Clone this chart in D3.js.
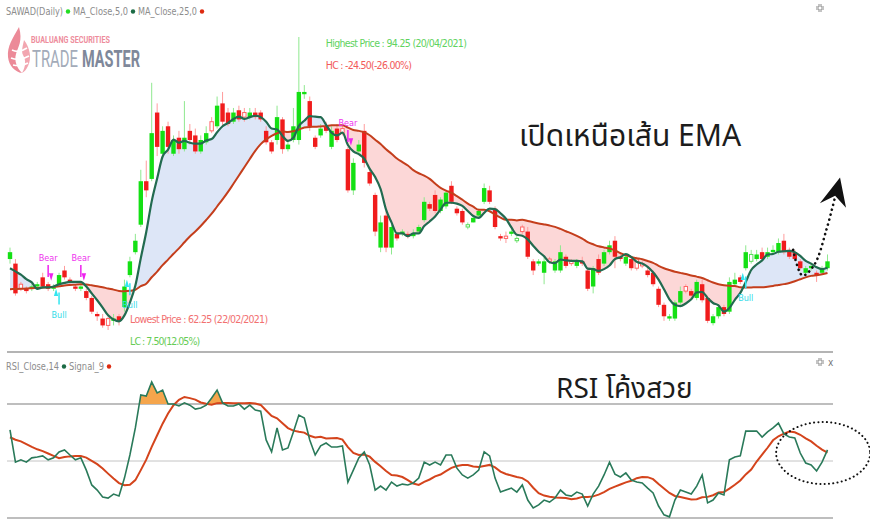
<!DOCTYPE html>
<html>
<head>
<meta charset="utf-8">
<script src="https://cdn.jsdelivr.net/npm/d3@7/dist/d3.min.js"></script>
<style>
  body { margin: 0; background: #fff; }
  svg { display: block; }
  .narrow { font-family: "Liberation Sans Narrow", "DejaVu Sans Condensed", "Roboto", sans-serif; }
  .thai { font-family: "Noto Sans Thai", "Noto Sans", "DejaVu Sans", sans-serif; }
</style>
</head>
<body>
<div id="chart"></div>
<script>
// ---- data ----
const symbolTitle = "SAWAD(Daily)";
const priceSeriesNames = ["MA_Close,5,0", "MA_Close,25,0"];
const rsiSeriesNames = ["RSI_Close,14", "Signal_9"];

const openPrices = [
  70.0, 69.5, 67.25, 66.75, 66.75, 67.0, 68.0, 67.25, 66.75, 67.25,
  68.75, 67.75, 67.0, 66.75, 66.5, 65.75, 64.0, 63.5, 63.5, 63.25,
  63.75, 64.75, 68.25, 70.75, 73.75, 78.5, 78.75, 86.0, 81.5, 84.5,
  81.5, 83.25, 82.0, 84.0, 83.5, 81.75, 82.75, 85.0, 84.5, 87.0,
  86.0, 85.0, 86.25, 86.0, 85.5, 86.0, 86.0, 84.0, 82.75, 83.0,
  85.25, 82.0, 83.0, 83.0, 88.0, 87.25, 83.25, 83.5, 84.5, 82.25,
  84.25, 84.25, 82.0, 77.5, 81.75, 84.0, 79.5, 77.0, 71.25, 74.75,
  71.25, 72.75, 72.75, 72.75, 72.5, 73.0, 74.25, 76.0, 77.0, 75.25,
  75.75, 78.0, 75.5, 75.25, 73.5, 74.0, 74.75, 76.25, 77.5, 75.5,
  72.5, 72.5, 72.75, 72.0, 73.5, 73.0, 69.75, 69.5, 68.5, 70.0,
  68.75, 68.75, 70.25, 69.75, 69.25, 69.75, 68.75, 67.0, 70.0, 69.5,
  70.75, 72.0, 70.25, 69.5, 70.0, 70.0, 69.5, 68.75, 68.5, 66.75,
  65.0, 63.5, 63.5, 65.25, 67.0, 66.5, 65.75, 67.25, 65.75, 63.0,
  63.75, 64.75, 64.25, 67.25, 68.0, 69.0, 69.75, 70.0, 70.75, 70.25,
  70.75, 70.75, 72.0, 71.0, 70.75, 69.75, 68.5, 69.0, 68.5, 68.5,
  69.0
];
const highPrices = [
  71.25, 70.0, 67.5, 67.0, 67.25, 67.5, 68.5, 67.5, 67.25, 68.5,
  69.25, 68.0, 67.25, 67.5, 66.75, 66.0, 64.25, 64.0, 63.75, 64.0,
  64.0, 67.75, 70.25, 72.75, 79.75, 80.75, 89.25, 87.0, 84.5, 85.0,
  83.5, 84.0, 87.25, 84.75, 84.25, 83.5, 84.5, 85.5, 87.75, 88.25,
  86.5, 86.5, 86.75, 86.5, 86.5, 86.5, 86.25, 84.5, 83.0, 86.75,
  85.5, 83.0, 86.5, 94.25, 89.0, 87.75, 83.5, 84.75, 85.0, 84.5,
  84.75, 84.75, 82.25, 81.0, 83.0, 84.75, 80.0, 77.25, 74.75, 75.25,
  74.0, 73.0, 73.25, 73.0, 73.25, 73.75, 76.75, 76.25, 77.5, 76.75,
  77.5, 78.5, 75.75, 75.5, 74.0, 74.75, 75.5, 78.25, 78.0, 75.75,
  72.75, 73.0, 73.25, 72.5, 73.75, 73.5, 70.0, 70.0, 70.25, 70.25,
  70.0, 71.5, 70.5, 70.0, 70.0, 70.25, 69.0, 69.25, 70.5, 71.0,
  72.0, 72.5, 70.75, 70.5, 70.25, 70.25, 69.75, 69.0, 68.75, 67.0,
  65.25, 64.0, 65.5, 67.0, 67.25, 66.75, 67.75, 67.75, 66.0, 64.0,
  65.0, 65.0, 68.0, 68.5, 68.25, 71.5, 71.0, 71.0, 71.25, 71.25,
  71.5, 72.25, 72.75, 71.25, 71.0, 70.0, 69.25, 69.5, 68.75, 69.25,
  70.5
];
const lowPrices = [
  69.5, 66.0, 66.5, 66.25, 66.5, 66.75, 66.75, 66.5, 66.5, 67.0,
  67.75, 67.25, 66.5, 66.5, 65.5, 64.0, 63.25, 62.5, 62.25, 62.75,
  62.75, 64.25, 68.0, 70.5, 73.5, 76.75, 78.5, 81.25, 81.0, 81.5,
  81.25, 81.5, 81.75, 82.5, 81.5, 81.5, 82.5, 83.75, 84.25, 84.5,
  84.5, 84.75, 85.0, 85.0, 85.25, 85.25, 85.0, 82.5, 81.5, 82.5,
  81.5, 81.75, 82.75, 82.5, 87.5, 84.0, 82.0, 83.25, 83.75, 82.0,
  82.75, 83.5, 77.25, 77.0, 81.5, 80.0, 78.0, 72.5, 70.75, 70.75,
  70.5, 72.0, 72.5, 72.25, 72.25, 73.0, 74.0, 75.25, 75.0, 75.0,
  75.5, 76.0, 74.75, 73.75, 73.25, 74.0, 74.5, 76.0, 76.0, 73.25,
  72.0, 71.75, 72.5, 71.75, 72.75, 70.0, 68.25, 69.25, 67.25, 69.5,
  68.5, 68.5, 69.0, 69.25, 69.0, 69.25, 66.5, 66.25, 68.25, 69.25,
  70.5, 69.0, 69.75, 69.25, 68.75, 68.75, 69.0, 68.0, 67.0, 64.75,
  63.25, 63.25, 63.25, 65.0, 66.25, 65.75, 65.5, 65.25, 63.0, 62.75,
  63.5, 63.75, 64.0, 67.0, 67.25, 68.75, 69.5, 69.75, 69.75, 70.0,
  70.5, 70.5, 70.5, 70.0, 69.75, 68.75, 68.25, 68.75, 67.5, 68.25,
  68.75
];
const closePrices = [
  70.75, 66.25, 66.75, 66.5, 67.0, 67.25, 67.0, 66.75, 67.0, 68.25,
  68.0, 67.5, 66.75, 67.0, 65.75, 64.25, 63.75, 62.75, 62.75, 63.5,
  63.25, 67.0, 69.75, 72.0, 78.5, 77.5, 83.75, 82.25, 84.0, 82.25,
  83.0, 82.0, 83.25, 83.0, 81.75, 83.0, 83.75, 84.0, 86.75, 85.0,
  84.75, 86.0, 85.25, 85.5, 86.0, 85.5, 85.25, 82.75, 81.75, 85.5,
  82.0, 82.5, 84.5, 88.25, 88.25, 84.5, 82.25, 84.25, 84.0, 84.0,
  83.0, 83.75, 77.5, 80.5, 82.5, 80.5, 78.25, 73.0, 74.0, 71.25,
  73.5, 72.25, 73.0, 72.5, 72.75, 73.5, 76.25, 75.5, 75.25, 76.5,
  77.25, 76.25, 75.0, 74.0, 73.75, 74.5, 75.25, 77.75, 76.25, 73.5,
  72.25, 72.25, 73.0, 72.25, 73.0, 70.25, 68.75, 69.75, 69.75, 69.75,
  69.75, 70.75, 69.25, 69.5, 69.75, 69.5, 66.75, 69.0, 68.5, 70.75,
  71.5, 70.25, 70.0, 70.25, 69.0, 69.0, 69.25, 68.25, 67.25, 65.0,
  63.75, 63.75, 65.25, 66.5, 66.5, 66.0, 67.5, 65.5, 63.25, 63.75,
  64.75, 64.0, 67.5, 67.75, 67.5, 70.75, 70.5, 70.5, 70.0, 70.75,
  71.0, 71.75, 70.75, 70.25, 70.0, 69.0, 69.0, 69.25, 68.25, 69.0,
  69.75
];
// closes before the first visible candle (warm-up for the averages)
const priorCloses = [
  65.5, 66.0, 66.25, 65.75, 66.5, 66.0, 65.75, 66.25, 66.5, 66.0,
  66.25, 65.75, 66.0, 66.5, 66.25, 66.0, 65.75, 66.25, 66.5, 66.75,
  68.0, 68.5, 69.0, 68.75
];

const rsiValues = [
  60.9, 49.6, 50.4, 49.6, 51.1, 51.4, 51.8, 50.4, 51.1, 53.2,
  53.9, 52.1, 50.4, 51.1, 46.8, 41.6, 39.8, 37.4, 37.0, 38.4,
  37.7, 44.0, 52.1, 61.6, 73.2, 72.8, 77.7, 73.9, 74.9, 70.0,
  70.0, 69.3, 70.4, 69.6, 68.2, 68.6, 69.6, 72.1, 74.9, 70.4,
  69.3, 69.3, 70.0, 68.2, 69.6, 67.9, 67.5, 57.4, 53.2, 61.6,
  53.9, 54.6, 60.2, 66.1, 65.1, 57.4, 52.1, 55.3, 56.3, 54.9,
  54.9, 55.3, 42.6, 46.8, 51.1, 53.2, 48.6, 39.8, 41.2, 39.8,
  42.6, 41.2, 41.9, 41.6, 42.3, 44.0, 49.6, 48.6, 49.6, 48.6,
  52.1, 52.1, 47.5, 45.1, 44.0, 45.1, 46.8, 53.2, 51.8, 44.0,
  39.1, 39.8, 40.5, 39.1, 41.6, 36.3, 33.5, 34.6, 36.3, 35.6,
  37.0, 39.8, 38.1, 37.7, 39.1, 38.4, 34.2, 38.4, 41.2, 45.1,
  49.6, 45.4, 44.4, 45.8, 43.3, 42.6, 42.3, 40.5, 38.8, 34.2,
  31.1, 30.4, 36.3, 39.8, 39.1, 38.4, 41.2, 45.1, 35.3, 36.3,
  38.8, 38.1, 50.4, 51.4, 51.8, 60.5, 60.5, 60.5, 58.4, 60.2,
  61.6, 63.3, 59.5, 58.4, 58.1, 52.8, 49.3, 48.6, 46.5, 49.6,
  53.9
];
const priorRsi = [57.4, 55.6, 58.1, 60.2, 58.8, 57.4, 58.1, 58.4];
const rsiLevels = [70, 50, 30];

const bearSignals = [7, 13, 62];
const bullSignals = [9, 22, 135];

const highestIndex = 53, lowestIndex = 18;
const highestLabel = "Highest Price : 94.25 (20/04/2021)";
const hcLabel = "HC : -24.50(-26.00%)";
const lowestLabel = "Lowest Price : 62.25 (22/02/2021)";
const lcLabel = "LC : 7.50(12.05%)";

const noteTop = "เปิดเหนือเส้น EMA";
const noteRsi = "RSI โค้งสวย";

// hand-drawn dotted arrow, in (candle index, price)
const arrowPath = [[143.7, 71.0], [145.4, 68.2], [147.6, 69.4], [149.8, 73.2], [151.4, 76.8]];
const arrowHead = [[152.3, 78.9], [148.6, 76.1], [151.4, 76.9], [153.4, 75.6]];
// hand-drawn dotted ellipse, centre in (candle index, rsi)
const ringCentre = [149.2, 52.8];

// ---- layout ----
const W = 870, H = 521;
const plotLeft = 7, plotRight = 833;
const mainBottom = 352;

const svg = d3.select("#chart").append("svg")
  .attr("width", W).attr("height", H);
const defs = svg.append("defs");

const n = closePrices.length;
const x = d3.scaleLinear().domain([0, n - 1]).range([10, 827.5]);
const y = d3.scaleLinear().domain([62.25, 94.25]).range([330, 37]);
const yRsi = d3.scaleLinear().domain([30, 70]).range([518, 404]);

// moving averages
const allCloses = priorCloses.concat(closePrices);
const off = priorCloses.length;
const ma5 = closePrices.map((c, i) => d3.mean(allCloses.slice(off + i - 4, off + i + 1)));
const ma25 = closePrices.map((c, i) => d3.mean(allCloses.slice(off + i - 24, off + i + 1)));

// rsi signal = 9 period average
const allRsi = priorRsi.concat(rsiValues);
const signal = rsiValues.map((v, i) => d3.mean(allRsi.slice(i, i + 9)));

// text squeezed sideways to a given width (keeps its height)
function squeezed(parent, tx, ty, width, txt) {
  const g = parent.append("g");
  const t = g.append("text").text(txt);
  return { g, t, fit() {
    const w = t.node().getComputedTextLength();
    g.attr("transform", `translate(${tx},${ty}) scale(${width / w},1)`);
    return t;
  } };
}

// ---- logo ----
const logo = svg.append("g");
logo.append("path")
  .attr("d", "M19 27 C13 38 7 46 8 57 C9 66 15 72 22 73 C17 68 14 61 16 54 C18 47 23 41 19 27 Z")
  .attr("fill", "#ec8a98");
logo.append("path")
  .attr("d", "M24 40 C30 48 32 58 28 66 C26 70 24 72 22 73 C26 66 26 60 23 55 C21 51 23 45 24 40 Z")
  .attr("fill", "#f2a6b0");
logo.append("path")
  .attr("d", "M12 50 C16 52 21 52 27 48 M11 58 C16 60 22 60 29 56 M13 65 C18 66 23 66 28 63")
  .attr("fill", "none").attr("stroke", "#fff").attr("stroke-width", 1.6);
[
  { tx: 31, ty: 43, w: 79, txt: "BUALUANG SECURITIES", size: 8.5, weight: 700, fill: "#ee8d9c" },
  { tx: 32, ty: 67, w: 46, txt: "TRADE", size: 23, weight: 400, fill: "#a3abb9" },
  { tx: 82, ty: 67, w: 58, txt: "MASTER", size: 23, weight: 700, fill: "#7f889a" }
].forEach(s => {
  const q = squeezed(logo, s.tx, s.ty, s.w, s.txt);
  q.t.attr("font-family", "Roboto, sans-serif").attr("font-size", s.size)
    .attr("font-weight", s.weight).attr("fill", s.fill);
  q.fit();
});

// ---- fills between the averages ----
const lineCurve = d3.curveMonotoneX;
defs.append("clipPath").attr("id", "aboveSlow").append("path")
  .attr("d", d3.area().x((d, i) => x(i)).y0(0).y1(d => y(d)).curve(lineCurve)(ma25));
defs.append("clipPath").attr("id", "belowSlow").append("path")
  .attr("d", d3.area().x((d, i) => x(i)).y0(d => y(d)).y1(mainBottom).curve(lineCurve)(ma25));
const band = d3.area().x((d, i) => x(i)).y0((d, i) => y(ma25[i])).y1(d => y(d)).curve(lineCurve);
svg.append("path").attr("d", band(ma5)).attr("fill", "#dde6f7").attr("clip-path", "url(#aboveSlow)");
svg.append("path").attr("d", band(ma5)).attr("fill", "#fcd7d7").attr("clip-path", "url(#belowSlow)");

// ---- candles ----
const candles = closePrices.map((c, i) => {
  const o = openPrices[i];
  const prev = i ? closePrices[i - 1] : priorCloses[priorCloses.length - 1];
  const up = c >= o;
  return { i, o, h: highPrices[i], l: lowPrices[i], c, up, filled: (c >= prev) === up };
});
const gC = svg.append("g");
gC.selectAll("line").data(candles).join("line")
  .attr("x1", d => x(d.i)).attr("x2", d => x(d.i))
  .attr("y1", d => y(d.h)).attr("y2", d => y(d.l))
  .attr("stroke", d => d.up ? "#8fe88f" : "#ff9c9c").attr("stroke-width", 1);
gC.selectAll("rect").data(candles).join("rect")
  .attr("x", d => x(d.i) - (d.filled ? 2.2 : 1.7))
  .attr("width", d => d.filled ? 4.4 : 3.4)
  .attr("y", d => y(Math.max(d.o, d.c)))
  .attr("height", d => Math.max(1, y(Math.min(d.o, d.c)) - y(Math.max(d.o, d.c))))
  .attr("fill", d => d.filled ? (d.up ? "#14e014" : "#f01c1c") : "#fff")
  .attr("stroke", d => d.filled ? "none" : (d.up ? "#5ade5a" : "#ff6464"))
  .attr("stroke-width", 1);

// ---- average lines ----
const maLine = d3.line().x((d, i) => x(i)).y(d => y(d)).curve(lineCurve);
svg.append("path").attr("d", maLine(ma25)).attr("fill", "none")
  .attr("stroke", "#c43e1c").attr("stroke-width", 2);
svg.append("path").attr("d", maLine(ma5)).attr("fill", "none")
  .attr("stroke", "#226b50").attr("stroke-width", 2.2);

// ---- bear / bull marks ----
defs.append("marker").attr("id", "headBear").attr("viewBox", "0 0 10 10")
  .attr("refX", 5).attr("refY", 9).attr("markerWidth", 5).attr("markerHeight", 5)
  .attr("orient", "auto").append("path").attr("d", "M0 2 L10 5 L0 8 Z").attr("fill", "#ee22ee");
defs.append("marker").attr("id", "headBull").attr("viewBox", "0 0 10 10")
  .attr("refX", 5).attr("refY", 9).attr("markerWidth", 5).attr("markerHeight", 5)
  .attr("orient", "auto").append("path").attr("d", "M0 2 L10 5 L0 8 Z").attr("fill", "#33e6f0");

const gSig = svg.append("g").attr("class", "narrow").attr("font-size", 9);
bearSignals.forEach(i => {
  const top = y(highPrices[i]);
  gSig.append("line").attr("x1", x(i)).attr("x2", x(i))
    .attr("y1", top - 17).attr("y2", top - 5)
    .attr("stroke", "#ee22ee").attr("stroke-width", 1.5).attr("marker-end", "url(#headBear)");
  gSig.append("text").attr("x", x(i)).attr("y", top - 21).attr("text-anchor", "middle")
    .attr("fill", "#ee33ee").text("Bear");
});
bullSignals.forEach(i => {
  const bot = y(lowPrices[i]);
  gSig.append("line").attr("x1", x(i)).attr("x2", x(i))
    .attr("y1", bot + 18).attr("y2", bot + 6)
    .attr("stroke", "#33e6f0").attr("stroke-width", 1.5).attr("marker-end", "url(#headBull)");
  gSig.append("text").attr("x", x(i)).attr("y", bot + 31).attr("text-anchor", "middle")
    .attr("fill", "#33dbe8").text("Bull");
});

// ---- high / low notes ----
const gNote = svg.append("g").attr("class", "narrow").attr("font-size", 10.5)
  .attr("lengthAdjust", "spacingAndGlyphs");
gNote.append("text").attr("x", x(highestIndex) + 27).attr("y", y(highPrices[highestIndex]) + 10)
  .attr("textLength", 141).attr("fill", "#5fd35f").text(highestLabel);
gNote.append("text").attr("x", x(highestIndex) + 27).attr("y", y(highPrices[highestIndex]) + 32)
  .attr("textLength", 86).attr("fill", "#f25a5a").text(hcLabel);
gNote.append("text").attr("x", x(lowestIndex) + 22).attr("y", y(lowPrices[lowestIndex]) - 7)
  .attr("textLength", 138).attr("fill", "#f27070").text(lowestLabel);
gNote.append("text").attr("x", x(lowestIndex) + 22).attr("y", y(lowPrices[lowestIndex]) + 15)
  .attr("textLength", 70).attr("fill", "#66cc55").text(lcLabel);

// ---- headers: label, then a coloured dot ----
function legend(yPos, parts) {
  let cx = 6;
  parts.forEach(p => {
    svg.append("text").attr("class", "narrow").attr("x", cx).attr("y", yPos)
      .attr("font-size", 11).attr("fill", "#8c8c8c")
      .attr("textLength", p.width).attr("lengthAdjust", "spacingAndGlyphs")
      .text(p.label);
    cx += p.width + 5;
    svg.append("circle").attr("cx", cx).attr("cy", yPos - 3.5).attr("r", 2.2).attr("fill", p.color);
    cx += 5;
  });
}
legend(15, [
  { label: symbolTitle, color: "#22dd22", width: 57 },
  { label: priceSeriesNames[0], color: "#1b6b45", width: 55 },
  { label: priceSeriesNames[1], color: "#dd2a10", width: 59 }
]);
legend(370, [
  { label: rsiSeriesNames[0], color: "#1b6b45", width: 53 },
  { label: rsiSeriesNames[1], color: "#dd2a10", width: 35 }
]);

function expandIcon(cx, cy) {
  const g = svg.append("g").attr("stroke", "#888").attr("stroke-width", 1).attr("fill", "none");
  const s = 3, d = 1;
  [[-1, -1], [1, -1], [-1, 1], [1, 1]].forEach(([sx, sy]) => {
    g.append("path").attr("d",
      `M${cx + sx * d} ${cy + sy * (d + s)} L${cx + sx * d} ${cy + sy * d} L${cx + sx * (d + s)} ${cy + sy * d}`);
  });
}
expandIcon(820, 8);
expandIcon(820, 362);
svg.append("text").attr("class", "narrow").attr("x", 828).attr("y", 366)
  .attr("font-size", 10).attr("fill", "#777").text("x");

// ---- rsi panel ----
svg.append("line").attr("x1", plotLeft).attr("x2", plotRight)
  .attr("y1", mainBottom).attr("y2", mainBottom).attr("stroke", "#b4b4b4").attr("stroke-width", 2);
svg.selectAll("line.level").data(rsiLevels).join("line").attr("class", "level")
  .attr("x1", plotLeft).attr("x2", plotRight)
  .attr("y1", d => yRsi(d)).attr("y2", d => yRsi(d))
  .attr("stroke", d => d === 50 ? "#c4c4c4" : "#a8a8a8")
  .attr("stroke-width", d => d === 50 ? 1 : 1.6);

defs.append("clipPath").attr("id", "overBought").append("rect")
  .attr("x", 0).attr("y", 0).attr("width", W).attr("height", yRsi(70));
svg.append("path")
  .attr("d", d3.area().x((d, i) => x(i)).y0(yRsi(70)).y1(d => yRsi(d))(rsiValues))
  .attr("fill", "#f5a54c").attr("clip-path", "url(#overBought)");

svg.append("path").attr("d", d3.line().x((d, i) => x(i)).y(d => yRsi(d))(signal))
  .attr("fill", "none").attr("stroke", "#d4441c").attr("stroke-width", 2);
svg.append("path").attr("d", d3.line().x((d, i) => x(i)).y(d => yRsi(d))(rsiValues))
  .attr("fill", "none").attr("stroke", "#2a7a5a").attr("stroke-width", 1.6);

// ---- hand-drawn notes ----
svg.append("text").attr("class", "thai").attr("x", 519).attr("y", 146)
  .attr("font-size", 30).attr("fill", "#1c1c1c").text(noteTop);
svg.append("text").attr("class", "thai").attr("x", 556).attr("y", 398)
  .attr("font-size", 28).attr("fill", "#1c1c1c").text(noteRsi);

svg.append("path")
  .attr("d", d3.line().x(d => x(d[0])).y(d => y(d[1])).curve(d3.curveCatmullRom)(arrowPath))
  .attr("fill", "none").attr("stroke", "#111").attr("stroke-width", 2.6)
  .attr("stroke-dasharray", "0.1,5").attr("stroke-linecap", "round");
svg.append("path")
  .attr("d", d3.line().x(d => x(d[0])).y(d => y(d[1]))(arrowHead) + "Z")
  .attr("fill", "#111");

svg.append("ellipse").attr("cx", x(ringCentre[0])).attr("cy", yRsi(ringCentre[1]))
  .attr("rx", 47).attr("ry", 31)
  .attr("fill", "none").attr("stroke", "#111").attr("stroke-width", 2)
  .attr("stroke-dasharray", "0.1,4.2").attr("stroke-linecap", "round");
</script>
</body>
</html>
